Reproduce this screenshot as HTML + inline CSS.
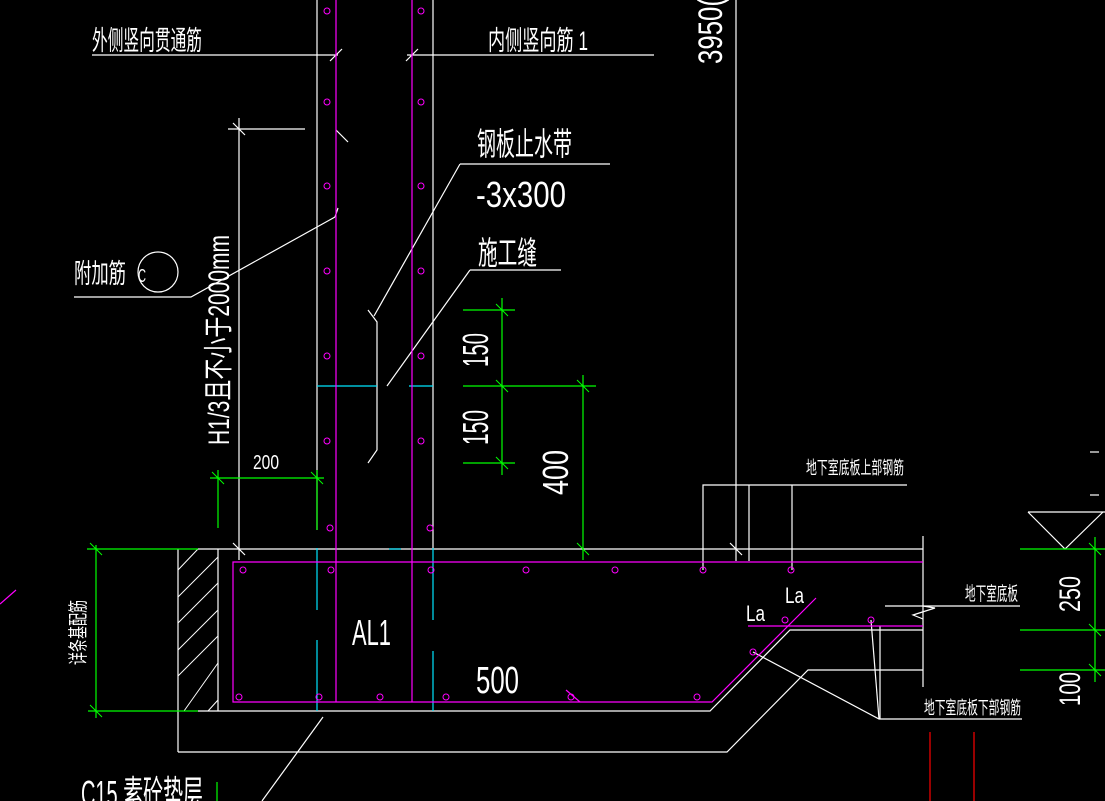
<!DOCTYPE html>
<html><head><meta charset="utf-8"><style>
html,body{margin:0;padding:0;background:#000;}
svg{display:block;}
text{font-family:"Liberation Sans","Noto Sans CJK SC",sans-serif;fill:#fff;}
</style></head><body>
<svg width="1105" height="801" viewBox="0 0 1105 801" xmlns="http://www.w3.org/2000/svg">
<rect width="1105" height="801" fill="#000"/>
<g stroke="#fff" stroke-width="1.2" fill="none">
  <!-- wall -->
  <line x1="317" y1="0" x2="317" y2="530"/>
  <line x1="433" y1="0" x2="433" y2="548"/>
  <line x1="736" y1="0" x2="736" y2="561"/>
  <!-- top leaders -->
  <line x1="92" y1="55" x2="338" y2="55"/>
  <line x1="330" y1="61" x2="342" y2="49"/>
  <line x1="407" y1="55" x2="654" y2="55"/>
  <line x1="406" y1="61" x2="418" y2="49"/>
  <line x1="460" y1="164" x2="610" y2="164"/>
  <line x1="460" y1="164" x2="374" y2="316"/>
  <polyline points="368,310 377,322 377,450 368,463"/>
  <line x1="470" y1="270" x2="561" y2="270"/>
  <line x1="470" y1="270" x2="387" y2="386"/>
  <!-- 附加筋 -->
  <polyline points="74,297 191,297 335,217"/>
  <line x1="335" y1="217" x2="338" y2="208"/>
  <circle cx="158" cy="272" r="20"/>
  <line x1="336" y1="130" x2="348" y2="142" />
  <!-- H1/3 dim -->
  <line x1="239" y1="118" x2="239" y2="560"/>
  <line x1="228" y1="129" x2="305" y2="129"/>
  <line x1="233" y1="123" x2="245" y2="135"/>
  <line x1="233" y1="543" x2="245" y2="555"/>
  <!-- slab -->
  <line x1="198" y1="549" x2="923" y2="549"/>
  <line x1="923" y1="536" x2="923" y2="687"/>
  <line x1="178" y1="549" x2="178" y2="752"/>
  <line x1="218" y1="549" x2="218" y2="711"/>
  <polyline points="198,711 710,711 790,630 923,630"/>
  <polyline points="178,752 727,752 808,670 923,670"/>
  <line x1="323" y1="717" x2="262" y2="801"/>
  <!-- upper rebar label -->
  <polyline points="703,570 703,485 907,485"/>
  <line x1="749" y1="485" x2="749" y2="561"/>
  <line x1="792" y1="485" x2="792" y2="570"/>
  <line x1="730" y1="543" x2="742" y2="555"/>
  <!-- 地下室底板 -->
  <line x1="885" y1="606" x2="1020" y2="606"/>
  <polyline points="923,606 935,608 913,615 923,619"/>
  <!-- lower rebar leader -->
  <polyline points="753,652 879,719 1022,719"/>
  <line x1="871" y1="620" x2="879" y2="719"/>
  <line x1="880" y1="626" x2="880" y2="719"/>
  <!-- triangle -->
  <polyline points="1028,512 1105,512"/>
  <polyline points="1028,512 1065,549 1103,512"/>
  <line x1="1090" y1="452" x2="1099" y2="452"/>
  <line x1="1090" y1="495" x2="1099" y2="495"/>
</g>
<!-- hatch -->
<g stroke="#fff" stroke-width="1" >
  <line x1="178" y1="570" x2="198" y2="549"/>
  <line x1="178" y1="597" x2="218" y2="557"/>
  <line x1="178" y1="623" x2="218" y2="583"/>
  <line x1="178" y1="650" x2="218" y2="610"/>
  <line x1="178" y1="676" x2="218" y2="636"/>
  <line x1="184" y1="711" x2="218" y2="663"/>
  <line x1="208" y1="711" x2="218" y2="700"/>
</g>
<!-- cyan -->
<g stroke="#00e5ff" stroke-width="1.2">
  <line x1="317" y1="386" x2="377" y2="386"/>
  <line x1="409" y1="386" x2="433" y2="386"/>
  <line x1="317" y1="548" x2="317" y2="610"/>
  <line x1="317" y1="640" x2="317" y2="711"/>
  <line x1="433" y1="548" x2="433" y2="620"/>
  <line x1="433" y1="651" x2="433" y2="711"/>
  <line x1="389" y1="549" x2="401" y2="549"/>
</g>
<!-- magenta -->
<g stroke="#ff00ff" stroke-width="1.2" fill="none">
  <line x1="336" y1="0" x2="336" y2="702"/>
  <line x1="412" y1="0" x2="412" y2="702"/>
  <polyline points="923,562 233,562 233,702 712,702 816,598"/>
  <line x1="748" y1="626" x2="923" y2="626"/>
  <line x1="0" y1="604" x2="16" y2="590"/>
  <line x1="566" y1="690" x2="580" y2="702"/>
  <g stroke-width="1">
  <circle cx="327" cy="11" r="3"/><circle cx="421" cy="11" r="3"/>
  <circle cx="327" cy="102" r="3"/><circle cx="421" cy="102" r="3"/>
  <circle cx="327" cy="186" r="3"/><circle cx="421" cy="186" r="3"/>
  <circle cx="327" cy="271" r="3"/><circle cx="421" cy="271" r="3"/>
  <circle cx="327" cy="356" r="3"/><circle cx="421" cy="356" r="3"/>
  <circle cx="327" cy="441" r="3"/><circle cx="421" cy="441" r="3"/>
  <circle cx="330" cy="528" r="3"/><circle cx="430" cy="528" r="3"/>
  <circle cx="243" cy="570" r="3"/><circle cx="331" cy="570" r="3"/>
  <circle cx="431" cy="570" r="3"/><circle cx="526" cy="570" r="3"/>
  <circle cx="615" cy="570" r="3"/><circle cx="703" cy="570" r="3"/><circle cx="791" cy="570" r="3"/>
  <circle cx="239" cy="697" r="3"/><circle cx="319" cy="697" r="3"/>
  <circle cx="380" cy="697" r="3"/><circle cx="446" cy="697" r="3"/>
  <circle cx="571" cy="697" r="3"/><circle cx="697" cy="697" r="3"/>
  <circle cx="785" cy="620" r="3"/><circle cx="871" cy="620" r="3"/><circle cx="753" cy="652" r="3"/>
  </g>
</g>
<!-- green dims -->
<g stroke="#00ff00" stroke-width="1.2">
  <line x1="210" y1="478" x2="324" y2="478"/>
  <line x1="218" y1="470" x2="218" y2="528"/>
  <line x1="317" y1="470" x2="317" y2="530"/>
  <line x1="96" y1="545" x2="96" y2="718"/>
  <line x1="87" y1="549" x2="198" y2="549"/>
  <line x1="88" y1="711" x2="198" y2="711"/>
  <line x1="502" y1="298" x2="502" y2="475"/>
  <line x1="463" y1="310" x2="515" y2="310"/>
  <line x1="463" y1="386" x2="596" y2="386"/>
  <line x1="463" y1="463" x2="515" y2="463"/>
  <line x1="583" y1="375" x2="583" y2="560"/>
  <line x1="1020" y1="549" x2="1105" y2="549"/>
  <line x1="1020" y1="630" x2="1105" y2="630"/>
  <line x1="1020" y1="670" x2="1105" y2="670"/>
  <line x1="1095" y1="537" x2="1095" y2="682"/>
  <line x1="217" y1="782" x2="217" y2="801"/>
  <g stroke-width="1">
  <line x1="212" y1="472" x2="224" y2="484"/><line x1="311" y1="472" x2="323" y2="484"/>
  <line x1="90" y1="543" x2="102" y2="555"/><line x1="90" y1="705" x2="102" y2="717"/>
  <line x1="496" y1="304" x2="508" y2="316"/><line x1="496" y1="380" x2="508" y2="392"/>
  <line x1="496" y1="457" x2="508" y2="469"/><line x1="577" y1="380" x2="589" y2="392"/>
  <line x1="577" y1="543" x2="589" y2="555"/>
  <line x1="1089" y1="543" x2="1101" y2="555"/><line x1="1089" y1="624" x2="1101" y2="636"/>
  <line x1="1089" y1="664" x2="1101" y2="676"/>
  </g>
</g>
<!-- red -->
<g stroke="#ff0000" stroke-width="1.2">
  <line x1="930" y1="732" x2="930" y2="801"/>
  <line x1="974" y1="732" x2="974" y2="801"/>
</g>
<!-- text -->
<text x="92" y="50" font-size="27" textLength="110" lengthAdjust="spacingAndGlyphs">外侧竖向贯通筋</text>
<text x="488" y="50" font-size="27" textLength="100" lengthAdjust="spacingAndGlyphs">内侧竖向筋 1</text>
<text x="477" y="155" font-size="32" textLength="95" lengthAdjust="spacingAndGlyphs">钢板止水带</text>
<text x="476" y="207" font-size="36" textLength="90" lengthAdjust="spacingAndGlyphs">-3x300</text>
<text x="478" y="264" font-size="32" textLength="59" lengthAdjust="spacingAndGlyphs">施工缝</text>
<text x="74" y="283" font-size="27" textLength="52" lengthAdjust="spacingAndGlyphs">附加筋</text>
<text x="138" y="282" font-size="18" textLength="8" lengthAdjust="spacingAndGlyphs">C</text>
<text transform="translate(229,445) rotate(-90)" font-size="30" textLength="210" lengthAdjust="spacingAndGlyphs">H1/3且不小于2000mm</text>
<text x="253" y="469" font-size="20" textLength="26" lengthAdjust="spacingAndGlyphs">200</text>
<text transform="translate(488,367) rotate(-90)" font-size="36" textLength="34" lengthAdjust="spacingAndGlyphs">150</text>
<text transform="translate(488,445) rotate(-90)" font-size="36" textLength="35" lengthAdjust="spacingAndGlyphs">150</text>
<text transform="translate(568,495) rotate(-90)" font-size="36" textLength="45" lengthAdjust="spacingAndGlyphs">400</text>
<text transform="translate(722,64) rotate(-90)" font-size="34" textLength="66" lengthAdjust="spacingAndGlyphs">3950(</text>
<text transform="translate(85,665) rotate(-90)" font-size="20" textLength="65" lengthAdjust="spacingAndGlyphs">详条基配筋</text>
<text x="352" y="645" font-size="36" textLength="39" lengthAdjust="spacingAndGlyphs">AL1</text>
<text x="476" y="693" font-size="38" textLength="43" lengthAdjust="spacingAndGlyphs">500</text>
<text x="785" y="603" font-size="22" textLength="19" lengthAdjust="spacingAndGlyphs">La</text>
<text x="746" y="621" font-size="22" textLength="19" lengthAdjust="spacingAndGlyphs">La</text>
<text x="806" y="474" font-size="18" textLength="98" lengthAdjust="spacingAndGlyphs">地下室底板上部钢筋</text>
<text x="965" y="600" font-size="19" textLength="53" lengthAdjust="spacingAndGlyphs">地下室底板</text>
<text x="924" y="714" font-size="18" textLength="97" lengthAdjust="spacingAndGlyphs">地下室底板下部钢筋</text>
<text transform="translate(1080,612) rotate(-90)" font-size="30" textLength="36" lengthAdjust="spacingAndGlyphs">250</text>
<text transform="translate(1080,706) rotate(-90)" font-size="30" textLength="34" lengthAdjust="spacingAndGlyphs">100</text>
<text x="81" y="806" font-size="36" textLength="122" lengthAdjust="spacingAndGlyphs">C15 素砼垫层</text>
</svg>
</body></html>
